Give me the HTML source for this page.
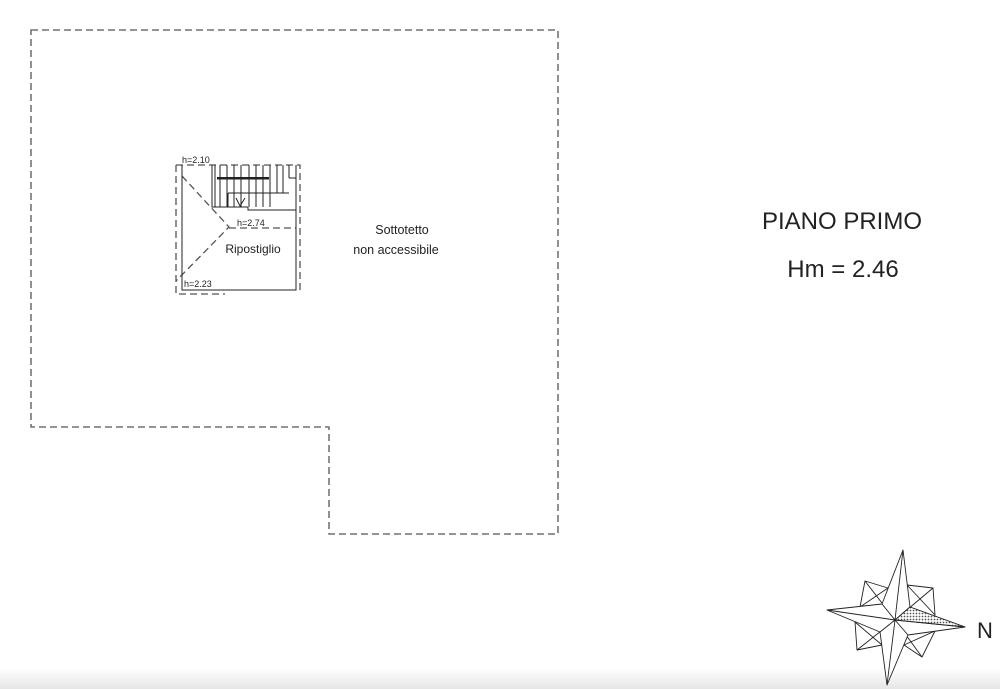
<!DOCTYPE html>
<html><head><meta charset="utf-8"><style>
html,body{margin:0;padding:0;background:#fff;}
svg{display:block;}
text{font-family:"Liberation Sans",sans-serif;fill:#222;}
</style></head><body>
<svg width="1000" height="689" viewBox="0 0 1000 689" xmlns="http://www.w3.org/2000/svg">
<defs>
<linearGradient id="g" x1="0" y1="0" x2="0" y2="1"><stop offset="0" stop-color="#fff"/><stop offset="1" stop-color="#e6e6e6"/></linearGradient>
<pattern id="hat" width="3" height="3" patternUnits="userSpaceOnUse"><rect width="3" height="3" fill="#fff"/><circle cx="1.5" cy="1.5" r="0.9" fill="#555"/></pattern>
</defs>
<rect x="0" y="668" width="1000" height="21" fill="url(#g)"/>
<g fill="none" stroke="#555" stroke-width="1.3" stroke-dasharray="7,4">
<path d="M31 30 H558 V534 H329 V427 H31 Z"/>
<path d="M176 165 H300 V291"/>
<path d="M176 165 V294 H225"/>
<path d="M182 176 L229 227 L176 281"/>
<path d="M229 228 H296"/>
</g>
<g fill="none" stroke="#222" stroke-width="1">
<path d="M182 165 V290 H296 V165"/>
<path d="M212 165 V207 H248 M215 165 V207"/>
<path d="M220 165V207 M227 165V207 M234 165V207 M241 165V207 M249 165V207 M256 165V207 M263 165V207 M270 165V207 M277 165V193 M283 165V193 M289 165V178"/>
<path d="M228 193 V207 M228 193 H283 M248 207 V210 H296 M248 210 H296 M283 178 V193 H289 M289 178 H296"/>
<path d="M236 198 L240 206 L245 198"/>
</g>
<rect x="217" y="177" width="52" height="2.5" fill="#222"/>
<text x="182" y="163" font-size="9">h=2.10</text>
<text x="237" y="226" font-size="9">h=2.74</text>
<text x="184" y="287" font-size="9">h=2.23</text>
<text x="253" y="253" font-size="12" text-anchor="middle" fill="#333">Ripostiglio</text>
<text x="402" y="234" font-size="12.5" text-anchor="middle" fill="#333">Sottotetto</text>
<text x="396" y="254" font-size="12.5" text-anchor="middle" fill="#333">non accessibile</text>
<text x="842" y="229" font-size="24" text-anchor="middle">PIANO PRIMO</text>
<text x="843" y="277" font-size="24" text-anchor="middle">Hm = 2.46</text>
<g stroke="#222" stroke-width="0.9" fill="#fff" stroke-linejoin="round">
<polygon points="865,581 888,588 860,607"/>
<polygon points="933,588 907,585 935,615"/>
<polygon points="857,650 855,622 882,645"/>
<polygon points="922,657 904,645 935,631"/>
<path d="M865 581 L895 620 M933 588 L895 620 M857 650 L895 620 M922 657 L895 620" fill="none"/>
<polygon points="903,550 910,607 965,627 908,635 887,685 880,632 827,610 882,604 903,550"/>
<path d="M903 550 L895 620 L887 685 M827 610 L895 620 L965 627 M882 604 L895 620 L908 635 M910 607 L895 620 L880 632" fill="none"/>
<polygon points="910,607 965,627 895,620" fill="url(#hat)"/>
</g>
<text x="977" y="638" font-size="22">N</text>
</svg>
</body></html>
